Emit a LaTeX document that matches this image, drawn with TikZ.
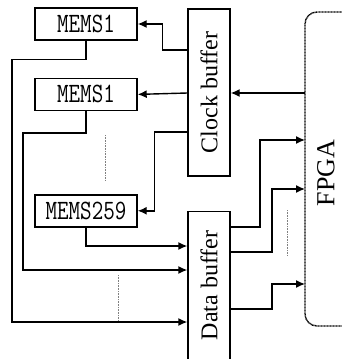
\documentclass[tikz,border=0pt]{standalone}
\usepackage{fontspec}
\setmainfont{Liberation Serif}
\newcommand{\memslabel}[1]{\scalebox{0.8}[1]{#1}}
\usetikzlibrary{arrows.meta, positioning}
\tikzset{%
	mems/.style={draw, rectangle, line width=1.4pt, minimum width=102pt, minimum height=32pt,%
		inner sep=0pt, font={\ttfamily\fontsize{28}{30}\selectfont}},
	buffer/.style={draw, rectangle, line width=1.4pt, minimum width=42pt, inner sep=0pt,%
		font={\fontsize{24}{26}\selectfont}},
	sel/.style={-{Latex[length=9pt,width=8pt]}, line width=1.4pt},
	gap/.style={densely dotted, gray, line width=0.6pt},
	fpgaline/.style={line width=1.4pt, dash pattern=on 1pt off 0.5pt, rounded corners=12pt}
}
\begin{document}
\begin{tikzpicture}[x=1pt, y=-1pt]
	\useasboundingbox (0,0) rectangle (341,359);
	\node[mems] (m1) at (86,24) {\memslabel{MEMS1}};
	\node[mems, below=37pt of m1] (m2) {\memslabel{MEMS1}};
	\node[mems, below=83pt of m2] (m259) {\memslabel{MEMS259}};
	\node[buffer, minimum height=167pt] (clk) at (209,92.5) {\rotatebox{90}{Clock buffer}};
	\node[buffer, minimum height=148pt, below=34pt of clk] (data) {\rotatebox{90}{Data buffer}};
	
	% FPGA, open to the right
	\draw[fpgaline] (350,12) -- (305,12) -- (305,326) -- (350,326);
	\coordinate (fpga) at (305,0);
	\node[font={\fontsize{26}{28}\selectfont}] (fpgatext) at (326,173) {\rotatebox{90}{FPGA}};
	
	% clock side
	\draw[sel] (fpga |- 0,93) -- (clk.east |- 0,93);
	\draw[sel] (clk.west |- 0,50) -- ++(-25,0) |- (m1.east);
	\draw[sel] (clk.west |- 0,93) -- (m2.east);
	\draw[sel] (clk.west |- 0,132) -- ++(-33,0) |- (m259.east);
	
	% data side
	\draw[sel] (m1.south) -- ++(0,19) -| (12,322) -- (data.west |- 0,322);
	\draw[sel] (m2.south) -- ++(0,22) -| (23,270) -- (data.west |- 0,270);
	\draw[sel] (m259.south) |- (data.west |- 0,246);
	\draw[sel] (data.east |- 0,227) -| (260,140) -- (fpga |- 0,140);
	\draw[sel] (data.east |- 0,252) -| (272,189) -- (fpga |- 0,189);
	\draw[sel] (data.east |- 0,309) -| (272,284) -- (fpga |- 0,284);
	
	\draw[gap] (105,135) -- (105,180);
	\draw[gap] (118,275) -- (118,320);
	\draw[gap] (287,210) -- (287,256);
\end{tikzpicture}
\end{document}
